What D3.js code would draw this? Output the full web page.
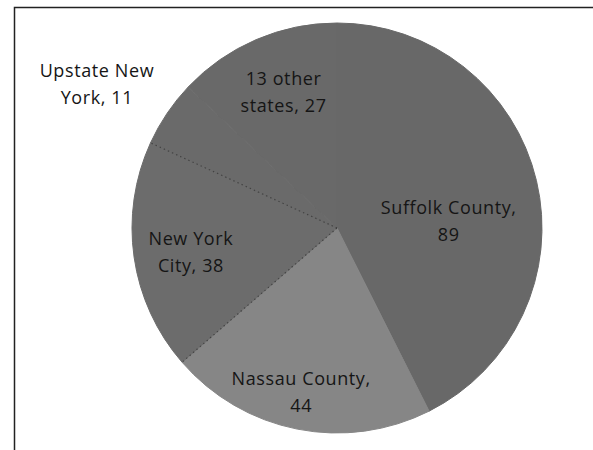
<!DOCTYPE html>
<html lang="en">
<head>
<meta charset="UTF-8">
<title>pie</title>
<style>
    body { margin:0; background:#fff; }
    svg { display:block; }
</style>
</head>
<body>
<script src="https://cdn.jsdelivr.net/npm/d3@7"></script>
<script>
    // data
    var categories = ["Suffolk County", "Nassau County", "New York City", "Upstate New York", "13 other states"];
    var values = [89, 44, 38, 11, 27];
    var labelLines = [["Suffolk County,", "89"], ["Nassau County,", "44"], ["New York", "City, 38"], ["Upstate New", "York, 11"], ["13 other", "states, 27"]];

    var w = 593, h = 450;
    var cx = 337, cy = 228, r = 205;
    var colors = ["#686868", "#868686", "#6c6c6c", "#6a6a6a", "#696969"];
    // label distance (fraction of radius) and small nudges
    var labelR = [0.55, 0.8, 0.72, 1.36, 0.71];
    var nudge = [[2, 16], [-4, 0], [0, 0], [-9, 9], [4, -6]];

    var svg = d3.select("body").append("svg")
        .attr("width", w)
        .attr("height", h);

    var defs = svg.append("defs");
    defs.append("filter").attr("id", "soft")
        .append("feGaussianBlur").attr("stdDeviation", 0.7);

    // frame
    svg.append("path")
        .attr("d", "M14.5,450 L14.5,7.5 L593,7.5")
        .attr("fill", "none")
        .attr("stroke", "#222")
        .attr("stroke-width", 1.5);

    var pie = d3.pie().sort(null).value(function (d) { return d; });
    var arcs = pie(values);
    var arc = d3.arc().innerRadius(0).outerRadius(r);

    var g = svg.append("g").attr("transform", "translate(" + cx + "," + cy + ")");
    var sl = g.append("g").attr("filter", "url(#soft)");

    sl.selectAll("path.slice")
        .data(arcs)
        .enter()
        .append("path")
        .attr("class", "slice")
        .attr("d", arc)
        .attr("fill", function (d, i) { return colors[i]; })
        .attr("stroke", function (d, i) { return colors[i]; })
        .attr("stroke-width", 1);

    // dotted dividers around New York City slice
    var divIdx = [2, 3];
    sl.selectAll("line.div")
        .data(divIdx)
        .enter()
        .append("line")
        .attr("x1", 0).attr("y1", 0)
        .attr("x2", function (i) { return Math.sin(arcs[i].startAngle) * r; })
        .attr("y2", function (i) { return -Math.cos(arcs[i].startAngle) * r; })
        .attr("stroke", "#333")
        .attr("stroke-width", 1.2)
        .attr("stroke-dasharray", "1.5,3")
        .attr("opacity", 0.7);

    // labels
    var lab = g.selectAll("text.lab")
        .data(arcs)
        .enter()
        .append("text")
        .attr("class", "lab")
        .attr("text-anchor", "middle")
        .attr("font-family", "'Open Sans', sans-serif")
        .attr("font-size", "18px")
        .attr("letter-spacing", "0.6px")
        .attr("fill", "#151515")
        .attr("transform", function (d, i) {
            var a = (d.startAngle + d.endAngle) / 2;
            var x = Math.sin(a) * r * labelR[i] + nudge[i][0];
            var y = -Math.cos(a) * r * labelR[i] + nudge[i][1];
            return "translate(" + x + "," + y + ")";
        });

    lab.selectAll("tspan")
        .data(function (d, i) { return labelLines[i]; })
        .enter()
        .append("tspan")
        .attr("x", 0)
        .attr("dy", function (d, j) { return j === 0 ? "-0.2em" : "1.5em"; })
        .text(function (d) { return d; });
</script>
</body>
</html>
